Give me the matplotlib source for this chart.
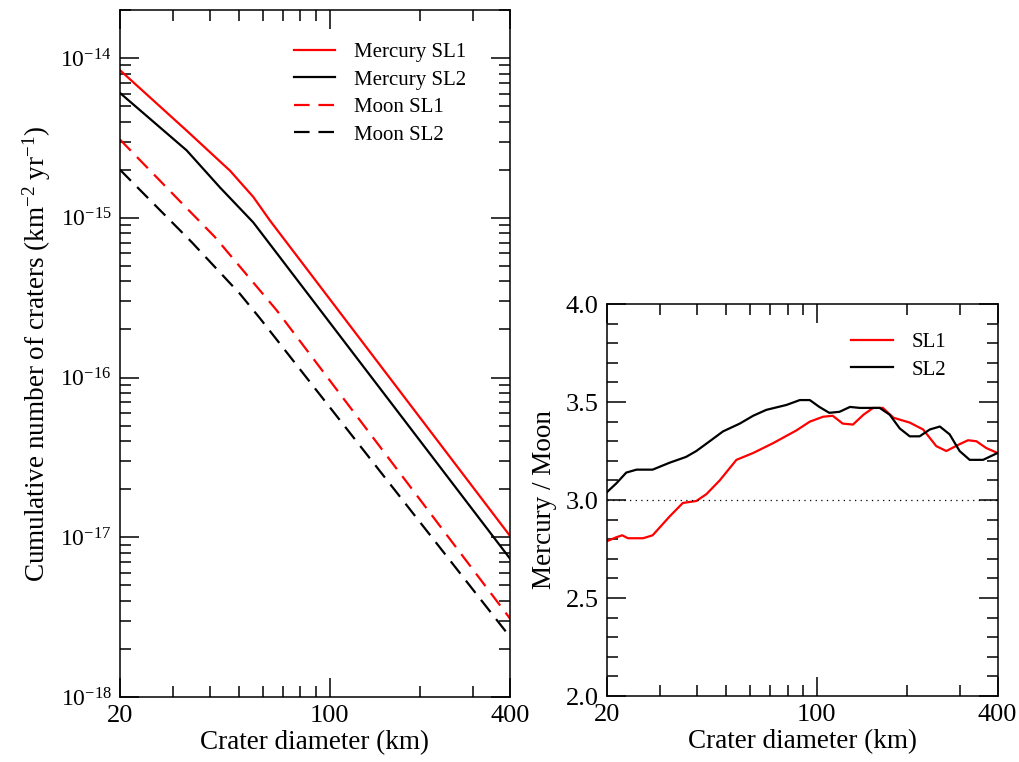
import matplotlib
matplotlib.use('Agg')
import numpy as np
from matplotlib import pyplot as plt
from matplotlib import ticker

plt.rcParams['font.family'] = ['Liberation Serif', 'DejaVu Serif']
plt.rcParams['mathtext.fontset'] = 'custom'
plt.rcParams['mathtext.rm'] = 'Liberation Serif'
plt.rcParams['mathtext.it'] = 'Liberation Serif:italic'

# cumulative crater rates (km^-2 yr^-1) vs diameter (km)
mercury_sl1_d = [20, 33.4, 46.6, 55.7, 63.3, 400]
mercury_sl1_n = [8.4e-15, 3.51e-15, 1.97e-15, 1.35e-15, 9.61e-16, 1.02e-17]

mercury_sl2_d = [20, 33.4, 43.1, 55.7, 400]
mercury_sl2_n = [6.05e-15, 2.64e-15, 1.55e-15, 9.35e-16, 7.35e-18]

moon_sl1_d = [20, 29.7, 41.5, 66.6, 400]
moon_sl1_n = [3.09e-15, 1.44e-15, 7.57e-16, 2.64e-16, 3.1e-18]

moon_sl2_d = [20, 34.7, 50.2, 58.6, 400]
moon_sl2_n = [2.0e-15, 7.04e-16, 3.35e-16, 2.35e-16, 2.38e-18]

# Mercury / Moon ratio
ratio_sl1_d = [20, 21.5, 22.5, 23.5, 26.4, 28.4, 32.3, 35.8, 39.7, 42.9, 47.5, 54, 61.4, 71.5,
               85.5, 94.8, 105, 113, 122, 132, 143, 154, 166, 180, 204, 226, 250, 270, 299,
               319, 340, 367, 400]
ratio_sl1 = [2.79, 2.81, 2.82, 2.805, 2.805, 2.82, 2.915, 2.985, 2.995, 3.03, 3.1, 3.205, 3.24,
             3.29, 3.355, 3.4, 3.425, 3.43, 3.39, 3.385, 3.435, 3.47, 3.47, 3.42, 3.395, 3.36,
             3.275, 3.25, 3.285, 3.305, 3.3, 3.265, 3.24]

ratio_sl2_d = [20, 21.5, 23.2, 25.1, 28.4, 32.3, 36.7, 39.7, 44, 48.7, 55.4, 61.4, 67.9, 79.2,
               87.8, 94.8, 102, 110, 119, 129, 139, 162, 175, 189, 204, 220, 238, 257, 277,
               299, 323, 358, 400]
ratio_sl2 = [3.04, 3.085, 3.14, 3.155, 3.155, 3.19, 3.22, 3.25, 3.3, 3.35, 3.39, 3.43, 3.46,
             3.485, 3.51, 3.51, 3.475, 3.445, 3.45, 3.475, 3.47, 3.47, 3.435, 3.365, 3.325,
             3.325, 3.36, 3.375, 3.335, 3.25, 3.205, 3.205, 3.24]

RED = '#ff0000'
LW = 1.6
DASH = (0, (7, 4))
LABEL_SIZE = 19.5
TICK_SIZE = 19


def style_xaxis(ax):
    ax.set_xscale('log')
    ax.set_xlim(20, 400)
    ax.xaxis.set_major_locator(ticker.FixedLocator([20, 100, 400]))
    ax.xaxis.set_minor_locator(ticker.FixedLocator([30, 40, 50, 60, 70, 80, 90, 200, 300]))
    ax.xaxis.set_major_formatter(ticker.FixedFormatter(['20', '100', '400']))
    ax.xaxis.set_minor_formatter(ticker.NullFormatter())
    ax.set_xlabel('Crater diameter (km)', fontsize=LABEL_SIZE, labelpad=2)
    ax.tick_params(which='both', direction='in', top=True, right=True, labelsize=TICK_SIZE,
                   width=1.1, pad=6)
    ax.tick_params(which='major', length=14)
    ax.tick_params(which='minor', length=8)
    for s in ax.spines.values():
        s.set_linewidth(1.1)


fig = plt.figure(figsize=(10.2, 7.62), dpi=100)

# left: cumulative numbers
ax1 = fig.add_axes([0.1176, 0.0853, 0.5 - 0.1176, 0.9869 - 0.0853])
ax1.plot(mercury_sl1_d, mercury_sl1_n, color=RED, lw=LW, label='Mercury SL1')
ax1.plot(mercury_sl2_d, mercury_sl2_n, color='black', lw=LW, label='Mercury SL2')
ax1.plot(moon_sl1_d, moon_sl1_n, color=RED, lw=LW, ls=DASH, label='Moon SL1')
ax1.plot(moon_sl2_d, moon_sl2_n, color='black', lw=LW, ls=DASH, label='Moon SL2')
style_xaxis(ax1)
ax1.set_yscale('log')
ax1.set_ylim(1e-18, 2e-14)
decades = [1e-18, 1e-17, 1e-16, 1e-15, 1e-14]
minors = [m * d for d in [1e-18, 1e-17, 1e-16, 1e-15] for m in range(2, 10)] + [2e-14]
ax1.yaxis.set_major_locator(ticker.FixedLocator(decades))
ax1.yaxis.set_minor_locator(ticker.FixedLocator(minors))
ax1.yaxis.set_major_formatter(ticker.FuncFormatter(lambda v, p: r'$10^{%d}$' % round(np.log10(v))))
ax1.yaxis.set_minor_formatter(ticker.NullFormatter())
ax1.tick_params(axis='y', labelsize=17)
ax1.set_ylabel(r'Cumulative number of craters (km$^{-2}$ yr$^{-1}$)', fontsize=LABEL_SIZE, labelpad=5.5)
ax1.legend(loc='upper left', bbox_to_anchor=(0.397, 0.980), frameon=False, fontsize=15,
           handlelength=2.0, handletextpad=0.9, labelspacing=0.38)

# right: ratio
ax2 = fig.add_axes([0.595, 0.0866, 0.978 - 0.595, 0.601 - 0.0866])
ax2.plot(ratio_sl1_d, ratio_sl1, color=RED, lw=LW, label='SL1')
ax2.plot(ratio_sl2_d, ratio_sl2, color='black', lw=LW, label='SL2')
ax2.plot([20, 400], [3.0, 3.0], color='black', lw=0.9, ls=(0, (1, 3.5)))
style_xaxis(ax2)
ax2.set_ylim(2.0, 4.0)
ax2.yaxis.set_major_locator(ticker.MultipleLocator(0.5))
ax2.yaxis.set_minor_locator(ticker.MultipleLocator(0.1))
ax2.yaxis.set_major_formatter(ticker.FormatStrFormatter('%.1f'))
ax2.set_ylabel('Mercury / Moon', fontsize=LABEL_SIZE, labelpad=6)
ax2.legend(loc='upper left', bbox_to_anchor=(0.577, 0.975), frameon=False, fontsize=15,
           handlelength=2.0, handletextpad=0.9, labelspacing=0.38)

fig.savefig('out.png', dpi=100)
